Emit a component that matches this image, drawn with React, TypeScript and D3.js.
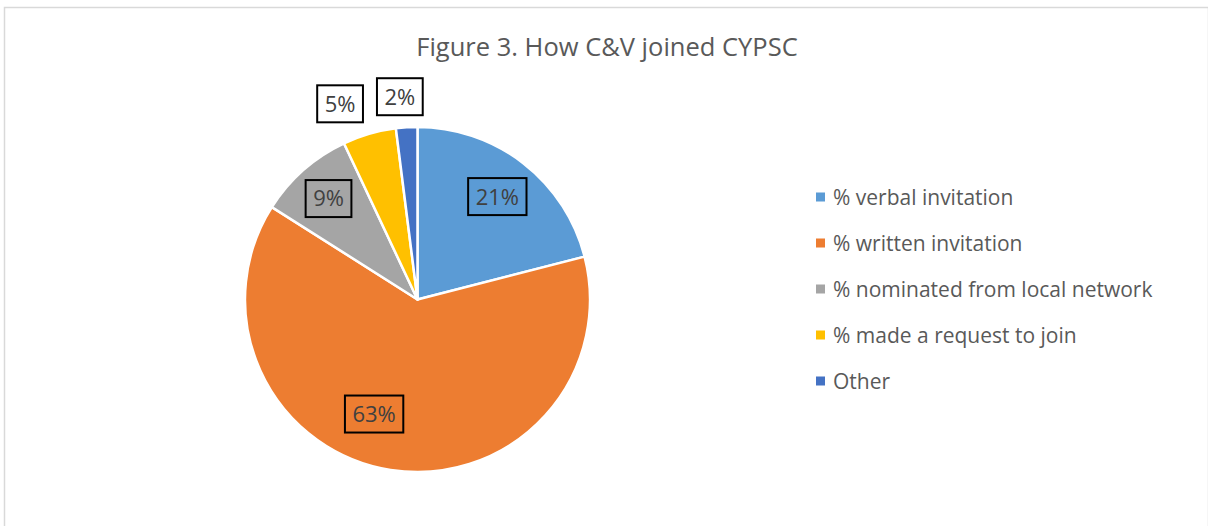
import React, { useEffect, useRef } from "react";
import * as d3 from "d3";

const title = "Figure 3. How C&V joined CYPSC";
const categories = [
  "% verbal invitation",
  "% written invitation",
  "% nominated from local network",
  "% made a request to join",
  "Other",
];
const values = [21, 63, 9, 5, 2];
const labels = ["21%", "63%", "9%", "5%", "2%"];
const colors = ["#5B9BD5", "#ED7D31", "#A5A5A5", "#FFC000", "#4472C4"];
// label placement: radius factor and angle nudge (radians) relative to slice middle
const labelRadius = [0.755, 0.71, 0.78, 1.22, 1.18];
const labelNudge = [0, 0.205, 0, -0.094, -0.024];

const W = 1208;
const H = 526;
const FONT = "'Open Sans', 'DejaVu Sans', sans-serif";

export default function App() {
  const ref = useRef<SVGSVGElement>(null);
  useEffect(() => {
    const svg = d3.select(ref.current);
    svg.selectAll("*").remove();

    svg
      .append("rect")
      .attr("x", 4.5)
      .attr("y", 7.5)
      .attr("width", W - 4)
      .attr("height", H + 10)
      .attr("fill", "#fff")
      .attr("stroke", "#D9D9D9")
      .attr("stroke-width", 1.5);

    svg
      .append("text")
      .attr("x", 607)
      .attr("y", 56)
      .attr("text-anchor", "middle")
      .attr("font-family", FONT)
      .attr("font-size", 25.5)
      .attr("fill", "#595959")
      .text(title);

    const cx = 417.5;
    const cy = 299.5;
    const R = 172.5;
    const pie = d3.pie<number>().sort(null).value((d) => d);
    const arcs = pie(values);
    const arc = d3.arc<d3.PieArcDatum<number>>().innerRadius(0).outerRadius(R);

    const g = svg.append("g").attr("transform", `translate(${cx},${cy})`);
    g.selectAll("path.slice")
      .data(arcs)
      .enter()
      .append("path")
      .attr("class", "slice")
      .attr("d", arc)
      .attr("fill", (_d, i) => colors[i])
      .attr("stroke", "#fff")
      .attr("stroke-width", 2.5)
      .attr("stroke-linejoin", "round");

    arcs.forEach((a, i) => {
      const mid = (a.startAngle + a.endAngle) / 2 + labelNudge[i];
      const r = R * labelRadius[i];
      const x = Math.sin(mid) * r;
      const y = -Math.cos(mid) * r;
      const lg = g.append("g").attr("transform", `translate(${x},${y})`);
      const rect = lg.append("rect");
      const t = lg
        .append("text")
        .attr("text-anchor", "middle")
        .attr("dy", "0.36em")
        .attr("font-family", FONT)
        .attr("font-size", 22)
        .attr("fill", "#404040")
        .text(labels[i]);
      const tw = (t.node() as SVGTextElement).getComputedTextLength();
      const bw = tw + 15;
      const bh = 37;
      rect
        .attr("x", -bw / 2)
        .attr("y", -bh / 2)
        .attr("width", bw)
        .attr("height", bh)
        .attr("fill", i >= 3 ? "#fff" : "none")
        .attr("stroke", "#000")
        .attr("stroke-width", 2);
    });

    const legendY = d3
      .scalePoint<string>()
      .domain(categories)
      .range([197, 381]);
    const lg = svg.append("g");
    categories.forEach((c, i) => {
      const y = legendY(c)!;
      lg.append("rect")
        .attr("x", 816)
        .attr("y", y - 4.5)
        .attr("width", 9)
        .attr("height", 9)
        .attr("fill", colors[i]);
      lg.append("text")
        .attr("x", 833)
        .attr("y", y)
        .attr("dy", "0.36em")
        .attr("font-family", FONT)
        .attr("font-size", 21)
        .attr("fill", "#595959")
        .text(c);
    });
  }, []);

  return (
    <svg
      ref={ref}
      width={W}
      height={H}
      style={{ position: "absolute", left: 0, top: 0, display: "block" }}
    />
  );
}
